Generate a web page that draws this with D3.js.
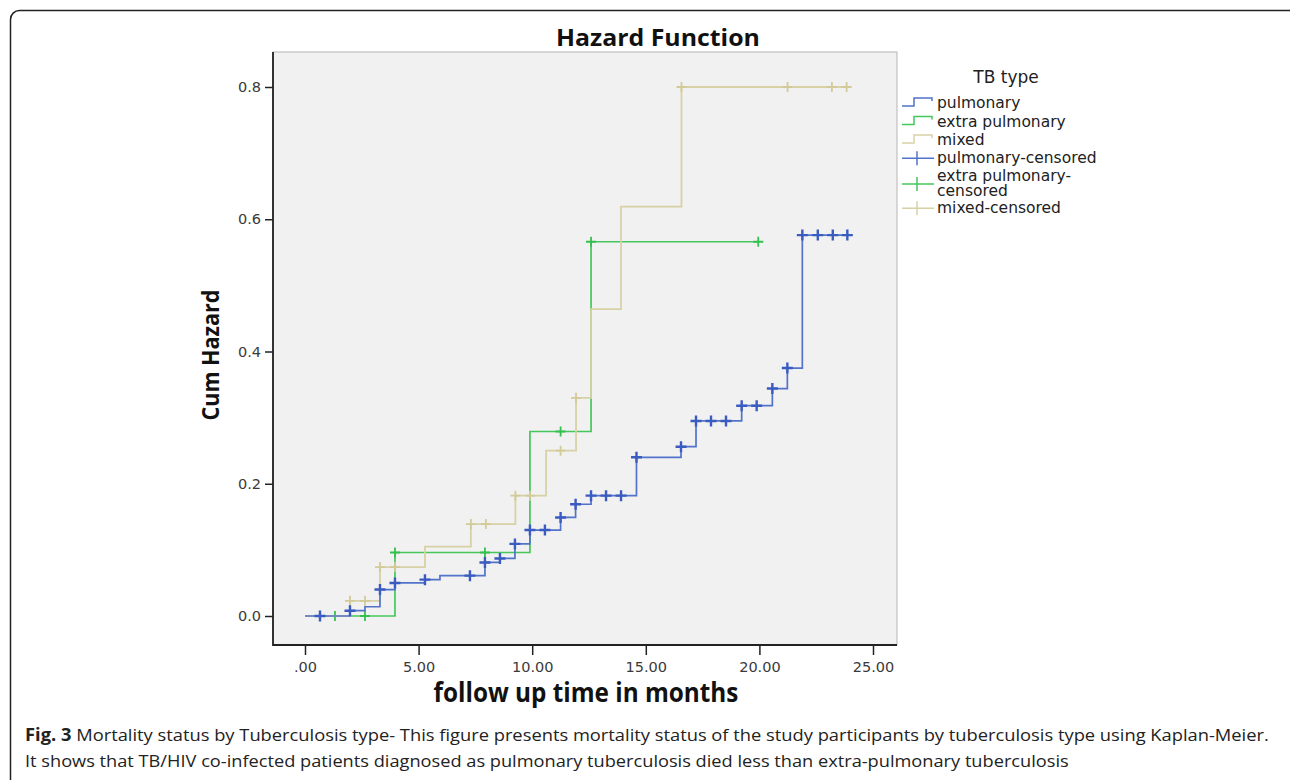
<!DOCTYPE html>
<html><head><meta charset="utf-8">
<script src="https://cdn.jsdelivr.net/npm/d3@7"></script>
<style>body{margin:0;background:#fff;} svg{display:block;}</style>
</head><body>
<svg id="chart" width="1290" height="780"></svg>
<script>
// ---------- data ----------
const xTicks = [0, 5, 10, 15, 20, 25];
const yTicks = [0, 0.2, 0.4, 0.6, 0.8];

const pulmonaryTime   = [0, 1.98, 2.64, 3.30, 3.96, 5.28, 5.94, 7.92, 8.58, 9.24, 9.90, 11.25, 11.91, 12.59, 14.59, 16.55, 17.21, 19.22, 20.57, 21.23, 21.89];
const pulmonaryHazard = [0, 0.008, 0.014, 0.040, 0.050, 0.055, 0.061, 0.081, 0.087, 0.109, 0.130, 0.149, 0.169, 0.182, 0.240, 0.256, 0.295, 0.318, 0.344, 0.375, 0.576];
const pulmonaryEnd = 23.87;
const pulmonaryCensored = [0.66, 1.98, 3.30, 3.96, 5.28, 7.26, 7.92, 8.58, 9.24, 9.90, 10.56, 11.25, 11.91, 12.59, 13.25, 13.91, 14.59, 16.55, 17.21, 17.87, 18.53, 19.22, 19.88, 20.57, 21.23, 21.89, 22.57, 23.23, 23.87];

const extraTime   = [0, 3.96, 9.90, 12.59];
const extraHazard = [0, 0.096, 0.279, 0.566];
const extraEnd = 19.95;
const extraCensored = [1.32, 2.64, 3.96, 7.92, 11.25, 12.59, 19.95];

const mixedTime   = [0, 1.98, 3.30, 5.28, 7.30, 9.26, 10.61, 11.93, 12.59, 13.91, 16.57];
const mixedHazard = [0, 0.023, 0.074, 0.105, 0.139, 0.182, 0.250, 0.330, 0.464, 0.619, 0.800];
const mixedEnd = 23.84;
const mixedCensored = [1.98, 2.64, 3.30, 3.96, 7.30, 7.96, 9.26, 9.90, 11.25, 11.93, 16.57, 21.24, 23.19, 23.84];

const legendLabels = ["pulmonary", "extra pulmonary", "mixed", "pulmonary-censored", ["extra pulmonary-", "censored"], "mixed-censored"];

// ---------- layout ----------
const svg = d3.select("#chart");
const plot = {left: 273, right: 897, top: 52, bottom: 645};
const x = d3.scaleLinear().domain([0, 25]).range([305, 873]);
const y = d3.scaleLinear().domain([0, 0.8]).range([616, 87]);

const colors = {
  pulmonary: {line: "#5273ca", mark: "#3a5bbf", w: 1.7, mw: 2.4, ms: 5.5},
  extra:     {line: "#45c75b", mark: "#34c04e", w: 1.7, mw: 1.8, ms: 5},
  mixed:     {line: "#d8d1a6", mark: "#d2ca98", w: 1.8, mw: 1.8, ms: 5}
};

// outer rounded frame
svg.append("rect").attr("x", 10.5).attr("y", 10.5).attr("width", 1292).attr("height", 800)
  .attr("rx", 9).attr("fill", "none").attr("stroke", "#222").attr("stroke-width", 1.5);

// plot background
svg.append("rect").attr("x", plot.left).attr("y", plot.top)
  .attr("width", plot.right - plot.left).attr("height", plot.bottom - plot.top)
  .attr("fill", "#f1f1f1").attr("stroke", "#b5b5b5").attr("stroke-width", 1);

// step curves
const line = d3.line().x(d => x(d[0])).y(d => y(d[1])).curve(d3.curveStepAfter);
function stepValue(times, hz, t) {
  let v = hz[0];
  for (let i = 0; i < times.length; i++) if (t >= times[i] - 1e-9) v = hz[i];
  return v;
}
function drawSeries(times, hz, end, cens, c) {
  const pts = times.map((t, i) => [t, hz[i]]);
  pts.push([end, hz[hz.length - 1]]);
  svg.append("path").attr("d", line(pts)).attr("fill", "none")
    .attr("stroke", c.line).attr("stroke-width", c.w).attr("stroke-linejoin", "miter");
  const g = svg.append("g");
  cens.forEach(t => {
    const cx = x(t), cy = y(stepValue(times, hz, t));
    g.append("path").attr("d", `M${cx - c.ms},${cy}H${cx + c.ms}M${cx},${cy - c.ms}V${cy + c.ms}`)
      .attr("stroke", c.mark).attr("stroke-width", c.mw).attr("fill", "none");
  });
}
drawSeries(extraTime, extraHazard, extraEnd, extraCensored, colors.extra);
drawSeries(mixedTime, mixedHazard, mixedEnd, mixedCensored, colors.mixed);
drawSeries(pulmonaryTime, pulmonaryHazard, pulmonaryEnd, pulmonaryCensored, colors.pulmonary);

// axes
const fmtX = d => d3.format(".2f")(d).replace(/^0\./, ".");
const xAxis = svg.append("g").attr("transform", `translate(0,${plot.bottom})`)
  .call(d3.axisBottom(x).tickValues(xTicks).tickFormat(fmtX).tickSize(10).tickPadding(7));
const yAxis = svg.append("g").attr("transform", `translate(${plot.left},0)`)
  .call(d3.axisLeft(y).tickValues(yTicks).tickFormat(d3.format(".1f")).tickSize(8).tickPadding(4));
[xAxis, yAxis].forEach(a => {
  a.select(".domain").remove();
  a.selectAll(".tick line").attr("stroke", "#222").attr("stroke-width", 1.5);
  a.selectAll(".tick text").attr("fill", "#3a3a3a").style("font-family", "'DejaVu Sans', sans-serif").style("font-size", "14.5px");
});
svg.append("path").attr("d", `M${plot.left},${plot.top}V${plot.bottom}H${plot.right}`)
  .attr("fill", "none").attr("stroke", "#222").attr("stroke-width", 1.8);

// fitted text helper
function fitted(txt, cx, cy, width, opts) {
  const g = svg.append("g");
  const t = g.append("text").attr("text-anchor", opts.anchor || "middle")
    .style("font-family", opts.family).style("font-size", opts.size + "px")
    .style("font-weight", opts.weight || "normal").attr("fill", opts.fill || "#111");
  if (Array.isArray(txt)) {
    txt.forEach(p => t.append("tspan").text(p.t).style("font-weight", p.w || "normal"));
  } else t.text(txt);
  const w = t.node().getComputedTextLength();
  const sx = width / w;
  g.attr("transform", `translate(${cx},${cy})${opts.rotate ? " rotate(-90)" : ""} scale(${sx},1)`);
  return g;
}
const condensed = "'Liberation Sans Narrow', 'Open Sans', sans-serif";
fitted("Hazard Function", 658, 46, 204, {family: condensed, size: 23, weight: "bold"});
fitted("follow up time in months", 586, 702, 305, {family: condensed, size: 26, weight: "bold"});
fitted("Cum Hazard", 219, 355, 131, {family: condensed, size: 24, weight: "bold", rotate: true});

// legend
const lg = svg.append("g").style("font-family", "'DejaVu Sans', sans-serif").style("font-size", "15.5px").attr("fill", "#222");
lg.append("text").attr("x", 1006).attr("y", 77).attr("dy", "0.35em").attr("text-anchor", "middle")
  .style("font-size", "17px").text("TB type");
const rowY = [103, 121.5, 140, 158.3, 184, 208.3];
const legColors = [colors.pulmonary, colors.extra, colors.mixed, colors.pulmonary, colors.extra, colors.mixed];
legendLabels.forEach((lab, i) => {
  const ry = rowY[i], c = legColors[i];
  if (i < 3) {
    lg.append("path").attr("d", `M902,${ry + 3}H914V${ry - 5}H932V${ry - 2}`)
      .attr("fill", "none").attr("stroke", c.line).attr("stroke-width", 1.5);
  } else {
    lg.append("path").attr("d", `M902,${ry}H934M917,${ry - 7}V${ry + 7}`)
      .attr("fill", "none").attr("stroke", c.line).attr("stroke-width", 1.5);
  }
  if (Array.isArray(lab)) {
    lg.append("text").attr("x", 937).attr("y", ry - 8).attr("dy", "0.3em").text(lab[0]);
    lg.append("text").attr("x", 937).attr("y", ry + 7.5).attr("dy", "0.3em").text(lab[1]);
  } else {
    lg.append("text").attr("x", 937).attr("y", ry).attr("dy", "0.33em").text(lab);
  }
});

// caption
const capFam = "'Open Sans', sans-serif";
fitted([{t: "Fig. 3", w: "bold"}, {t: " Mortality status by Tuberculosis type- This figure presents mortality status of the study participants by tuberculosis type using Kaplan-Meier."}],
  25, 741, 1245, {family: capFam, size: 17, anchor: "start", fill: "#222"});
fitted("It shows that TB/HIV co-infected patients diagnosed as pulmonary tuberculosis died less than extra-pulmonary tuberculosis",
  25, 767, 1044, {family: capFam, size: 17, anchor: "start", fill: "#222"});
</script>
</body></html>
